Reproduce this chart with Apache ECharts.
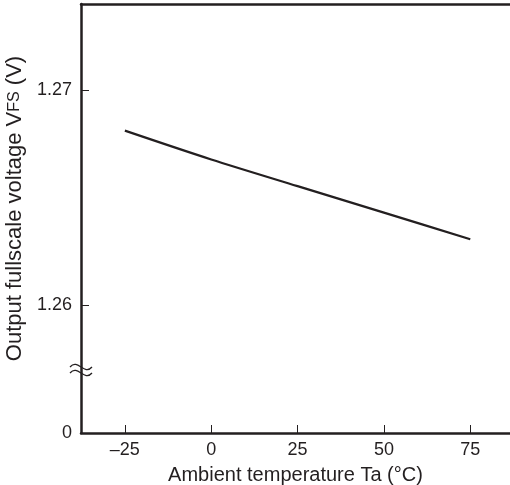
<!DOCTYPE html>
<html><head><meta charset="utf-8">
<script src="https://cdn.jsdelivr.net/npm/echarts@6/dist/echarts.min.js"></script>
<style>html,body{margin:0;padding:0;background:#fff}#c{width:510px;height:485px}</style>
</head><body><div id="c"></div>
<script>
const temps = [-25, 0, 25, 50, 75];
const voltages = [1.26811, 1.26677, 1.26553, 1.26430, 1.26306];
const xTicks = [-25, 0, 25, 50, 75];
const yTicks = [1.26, 1.27];
const yZero = 1.25405; // break-axis bottom, labelled "0"
const yBreak = 1.25698;

const ink = '#231f20';
const font = 'Liberation Sans, Arial, sans-serif';
const xMin = -37.7, xMax = 86.5;
const chart = echarts.init(document.getElementById('c'), null, {renderer: 'canvas'});
chart.setOption({
  animation: false,
  grid: {left: 81, right: 0, top: 4, bottom: 52, containLabel: false, outerBoundsMode: 'none'},
  xAxis: [{
    type: 'value', min: xMin, max: xMax,
    name: 'Ambient temperature Ta (°C)', nameLocation: 'middle', nameGap: 32,
    nameTextStyle: {color: ink, fontSize: 20, fontFamily: font},
    axisLine: {show: true, onZero: false, lineStyle: {color: ink, width: 2.5}},
    axisTick: {show: true, inside: true, length: 8, customValues: xTicks, lineStyle: {color: ink, width: 1}},
    axisLabel: {customValues: xTicks, color: ink, fontSize: 18, fontFamily: font, margin: 8,
      formatter: v => (v < 0 ? '\u2013' + Math.abs(v) : String(v))},
    splitLine: {show: false}
  }, {
    type: 'value', position: 'top', min: xMin, max: xMax,
    axisLine: {show: true, onZero: false, lineStyle: {color: ink, width: 2.5}},
    axisTick: {show: false}, axisLabel: {show: false}, splitLine: {show: false}
  }],
  yAxis: {
    type: 'value', min: yZero, max: 1.274,
    name: 'Output fullscale voltage V{s|FS} (V)', nameLocation: 'middle', nameGap: 53, nameRotate: 90,
    nameTextStyle: {color: ink, fontSize: 22, fontFamily: font, padding: [0, 0, 0, 20],
      rich: {s: {fontSize: 16, color: ink, fontFamily: font}}},
    axisLine: {show: true, onZero: false, lineStyle: {color: ink, width: 2.5}},
    axisTick: {show: true, inside: true, length: 8, customValues: yTicks, lineStyle: {color: ink, width: 1}},
    axisLabel: {customValues: [yZero].concat(yTicks), color: ink, fontSize: 18, fontFamily: font, margin: 9,
      formatter: v => (v < 1.255 ? '0' : v.toFixed(2))},
    splitLine: {show: false}
  },
  series: [{
    type: 'line', data: temps.map((t, i) => [t, voltages[i]]),
    showSymbol: false, symbol: 'none', smooth: 0.3,
    lineStyle: {color: ink, width: 2.2}
  }]
});
const p = chart.convertToPixel({xAxisIndex: 0, yAxisIndex: 0}, [xMin, yBreak]);
function tilde(dy) {
  return {
    type: 'bezierCurve', x: p[0], y: p[1] + dy,
    shape: {x1: -11, y1: 0, x2: 11, y2: 0, cpx1: -3, cpy1: -9, cpx2: 3, cpy2: 9},
    style: {fill: 'none', stroke: ink, lineWidth: 1.3}
  };
}
chart.setOption({graphic: [tilde(-3), tilde(3)]});
</script></body></html>
